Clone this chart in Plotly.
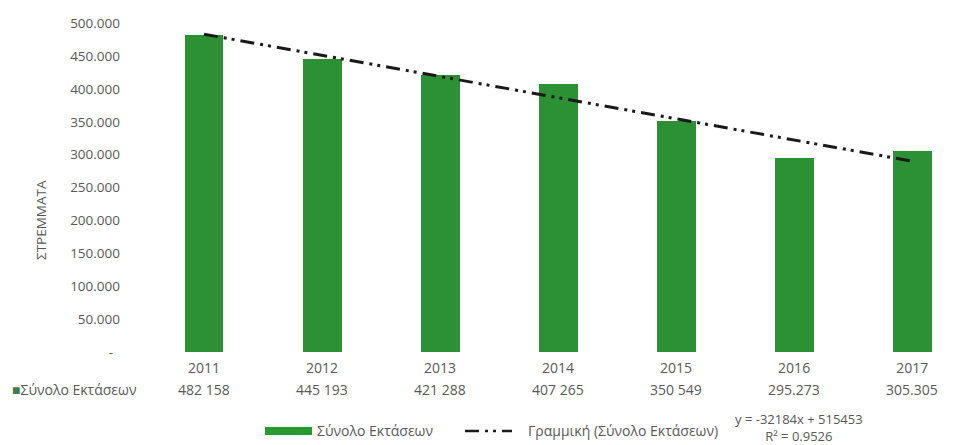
import numpy as np
import plotly.graph_objects as go

years = ["2011", "2012", "2013", "2014", "2015", "2016", "2017"]
totals = [482158, 445193, 421288, 407265, 350549, 295273, 305305]
table_text = ["482 158", "445 193", "421 288", "407 265", "350 549", "295.273", "305.305"]
y_ticks = [0, 50000, 100000, 150000, 200000, 250000, 300000, 350000, 400000, 450000, 500000]
y_ticktext = ["-\u00a0\u00a0", "50.000", "100.000", "150.000", "200.000", "250.000",
              "300.000", "350.000", "400.000", "450.000", "500.000"]
series_name = "Σύνολο Εκτάσεων"
trend_name = "Γραμμική (Σύνολο Εκτάσεων)"
y_title = "ΣΤΡΕΜΜΑΤΑ"
eq_label = "y = -32184x + 515453"
r2_label = "R² = 0.9526"

# linear trend fitted on the data (x = 1..7)
xi = np.arange(1, len(totals) + 1)
slope, intercept = np.polyfit(xi, totals, 1)
trend = slope * xi + intercept
eq_text = f"{eq_label}<br>{r2_label}"

OFF = 8  # page body margin
W, H = 957 - OFF, 445 - OFF
ML, MR, MT, MB = 145 - OFF, 0, 10 - OFF, 93
PW, PH = W - ML - MR, H - MT - MB

def px(x):  # page pixel -> paper
    return (x - OFF - ML) / PW

def py(y):
    return (H - MB - (y - OFF)) / PH

FONT = "Open Sans"
GRAY = "#595959"
GREEN = "#2c9134"
DASH = "14px,6px,3px,5px,3px,6px"

fig = go.Figure()
fig.add_trace(go.Bar(x=years, y=totals, marker=dict(color=GREEN, line=dict(width=0)),
                     width=0.33, name=series_name, showlegend=False))
fig.add_trace(go.Scatter(x=years, y=trend, mode="lines", name=trend_name, showlegend=False,
                         line=dict(color="#1a1a1a", width=3, dash=DASH)))

ann = []
ann.append(dict(x=px(41), y=py(220), xref="paper", yref="paper", xanchor="center", yanchor="middle",
                text=y_title, textangle=-90,
                showarrow=False, font=dict(family=FONT, size=13.5, color=GRAY)))
ann.append(dict(x=px(10), y=py(389), xref="paper", yref="paper", xanchor="left", yanchor="middle",
                text=f'<span style="color:#3f7f4c">■</span>{series_name}',
                showarrow=False, font=dict(family=FONT, size=14, color=GRAY)))
for i, t in enumerate(table_text):
    ann.append(dict(x=i, y=py(389), xref="x", yref="paper", xanchor="center", yanchor="middle",
                    text=t, showarrow=False, font=dict(family=FONT, size=14, color=GRAY)))
ann.append(dict(x=px(315), y=py(431), xref="paper", yref="paper", xanchor="left", yanchor="middle",
                text=series_name, showarrow=False, font=dict(family=FONT, size=14, color=GRAY)))
ann.append(dict(x=px(526), y=py(431), xref="paper", yref="paper", xanchor="left", yanchor="middle",
                text=trend_name, showarrow=False, font=dict(family=FONT, size=14, color=GRAY)))
ann.append(dict(x=px(799), y=py(427), xref="paper", yref="paper", xanchor="center", yanchor="middle",
                text=eq_text, align="center",
                showarrow=False, font=dict(family=FONT, size=13, color=GRAY)))

shapes = [
    dict(type="rect", xref="paper", yref="paper", x0=px(265), x1=px(312), y0=py(435), y1=py(427),
         fillcolor="#279a2f", line=dict(width=0)),
    dict(type="line", xref="paper", yref="paper", x0=px(465), x1=px(512), y0=py(431), y1=py(431),
         line=dict(color="#1a1a1a", width=2.5, dash=DASH)),
]

fig.update_layout(
    width=W, height=H, margin=dict(l=ML, r=MR, t=MT, b=MB, autoexpand=False),
    paper_bgcolor="white", plot_bgcolor="white",
    annotations=ann, shapes=shapes, showlegend=False,
    xaxis=dict(type="category", range=[-0.5, 6.38], showgrid=False, zeroline=False, showline=False,
               ticks="", tickfont=dict(family=FONT, size=14, color=GRAY), ticklabelstandoff=6),
    yaxis=dict(range=[0, 520000], tickvals=y_ticks, ticktext=y_ticktext, showgrid=False,
               zeroline=False, showline=False, ticks="", ticklabelstandoff=24,
               tickfont=dict(family=FONT, size=13.5, color=GRAY)),
    bargap=0,
)

fig.write_html("out.html")
